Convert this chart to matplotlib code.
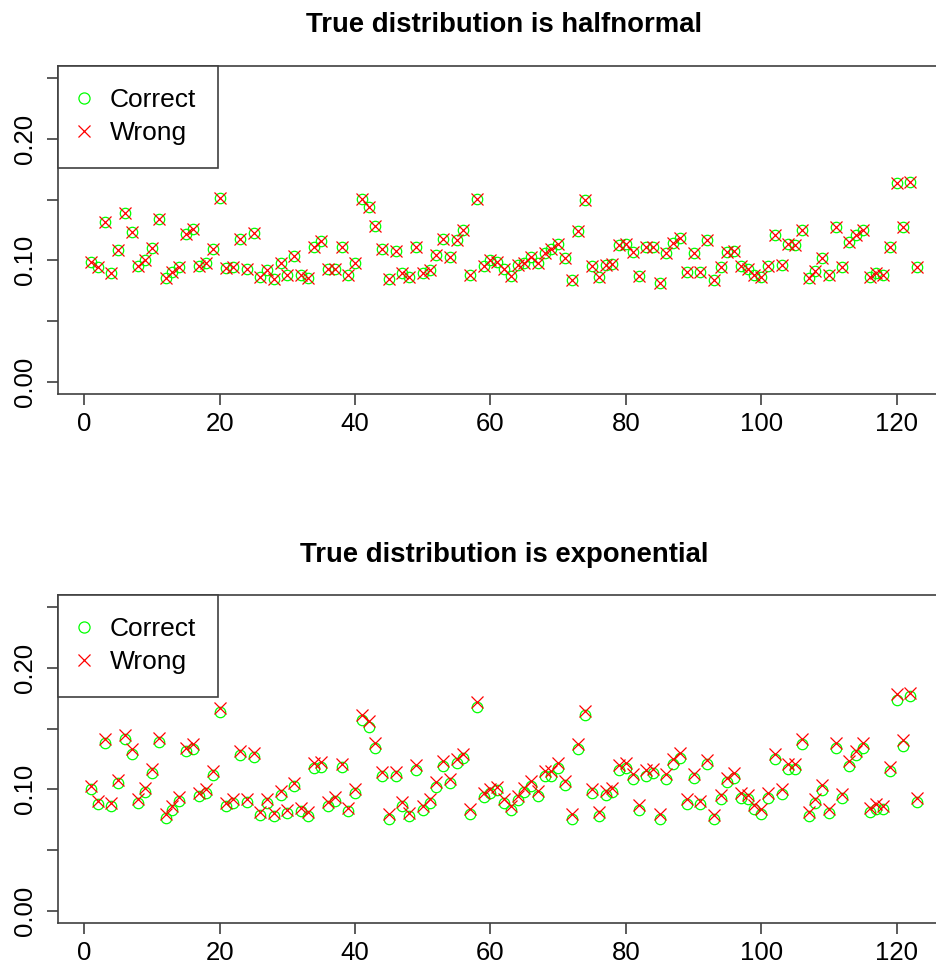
import matplotlib
matplotlib.use("Agg")
from matplotlib import pyplot as plt
import numpy as np

plt.rcParams['font.family'] = ['Liberation Sans', 'DejaVu Sans']

# values, index 1..123
halfnormal_correct = [
    0.099, 0.0945, 0.1315, 0.090, 0.1087, 0.1386, 0.1233, 0.0953, 0.1005, 0.1098,
    0.1339, 0.0854, 0.0906, 0.0945, 0.1219, 0.1257, 0.0953, 0.0978, 0.1093, 0.1517,
    0.0939, 0.0945, 0.1178, 0.0931, 0.1229, 0.0863, 0.0923, 0.0849, 0.0975, 0.0879,
    0.1038, 0.0879, 0.0851, 0.1114, 0.1161, 0.0928, 0.0928, 0.1114, 0.0879, 0.0980,
    0.1506, 0.1440, 0.1279, 0.1095, 0.0843, 0.1079, 0.0898, 0.0863, 0.1112, 0.0898,
    0.0920, 0.1046, 0.1175, 0.1030, 0.1169, 0.1246, 0.0879, 0.1506, 0.0953, 0.1005,
    0.0983, 0.0928, 0.0871, 0.0958, 0.0980, 0.1027, 0.0980, 0.1060, 0.1095, 0.1136,
    0.1021, 0.0840, 0.1238, 0.1498, 0.0953, 0.0863, 0.0964, 0.0972, 0.1123, 0.1131,
    0.1065, 0.0871, 0.1106, 0.1112, 0.0816, 0.1057, 0.1147, 0.1188, 0.0906, 0.1057,
    0.0901, 0.1164, 0.0838, 0.0947, 0.1068, 0.1079, 0.0953, 0.0928, 0.0879, 0.0863,
    0.0953, 0.1208, 0.0964, 0.1131, 0.1128, 0.1254, 0.0857, 0.0909, 0.1021, 0.0879,
    0.1273, 0.0947, 0.1153, 0.1210, 0.1254, 0.0863, 0.0898, 0.0879, 0.1112, 0.1638,
    0.1273, 0.1646, 0.0947]
# wrong and correct coincide in the halfnormal panel
halfnormal_wrong = halfnormal_correct

exponential_correct = [
    0.1001, 0.0878, 0.1384, 0.0864, 0.1050, 0.1412, 0.1291, 0.0891, 0.0982, 0.1132,
    0.1390, 0.0763, 0.0831, 0.0908, 0.1316, 0.1335, 0.0946, 0.0973, 0.1118, 0.1636,
    0.0864, 0.0891, 0.1283, 0.0897, 0.1266, 0.0790, 0.0891, 0.0782, 0.0954, 0.0809,
    0.1028, 0.0823, 0.0782, 0.1179, 0.1187, 0.0864, 0.0905, 0.1184, 0.0823, 0.0973,
    0.1570, 0.1516, 0.1343, 0.1110, 0.0754, 0.1110, 0.0864, 0.0782, 0.1160, 0.0831,
    0.0886, 0.1023, 0.1192, 0.1056, 0.1220, 0.1256, 0.0795, 0.1677, 0.0938, 0.0973,
    0.0995, 0.0886, 0.0831, 0.0913, 0.0982, 0.1028, 0.0946, 0.1110, 0.1110, 0.1179,
    0.1034, 0.0754, 0.1329, 0.1609, 0.0973, 0.0782, 0.0951, 0.0978, 0.1160, 0.1179,
    0.1083, 0.0831, 0.1110, 0.1132, 0.0754, 0.1089, 0.1206, 0.1261, 0.0878, 0.1091,
    0.0878, 0.1206, 0.0754, 0.0919, 0.1061, 0.1091, 0.0932, 0.0924, 0.0836, 0.0801,
    0.0932, 0.1253, 0.0965, 0.1171, 0.1165, 0.1371, 0.0782, 0.0886, 0.0995, 0.0804,
    0.1343, 0.0932, 0.1192, 0.1280, 0.1343, 0.0815, 0.0842, 0.0836, 0.1151, 0.1735,
    0.1357, 0.1767, 0.0897]
exponential_wrong = [
    0.1028, 0.0905, 0.1417, 0.0891, 0.1077, 0.1444, 0.1329, 0.0919, 0.1009, 0.1171,
    0.1423, 0.0795, 0.0864, 0.0941, 0.1343, 0.1371, 0.0973, 0.1001, 0.1151, 0.1672,
    0.0891, 0.0919, 0.1316, 0.0924, 0.1297, 0.0817, 0.0924, 0.0809, 0.0987, 0.0831,
    0.1056, 0.0850, 0.0815, 0.1220, 0.1225, 0.0897, 0.0941, 0.1212, 0.0850, 0.1006,
    0.1609, 0.1562, 0.1384, 0.1143, 0.0795, 0.1143, 0.0897, 0.0809, 0.1198, 0.0864,
    0.0919, 0.1061, 0.1233, 0.1089, 0.1253, 0.1288, 0.0836, 0.1718, 0.0973, 0.1006,
    0.1023, 0.0924, 0.0864, 0.0946, 0.1015, 0.1069, 0.0987, 0.1151, 0.1151, 0.1214,
    0.1069, 0.0795, 0.1371, 0.1644, 0.1006, 0.0815, 0.0987, 0.1015, 0.1198, 0.1214,
    0.1124, 0.0869, 0.1160, 0.1171, 0.0795, 0.1124, 0.1247, 0.1297, 0.0919, 0.1130,
    0.0905, 0.1242, 0.0787, 0.0951, 0.1091, 0.1138, 0.0968, 0.0951, 0.0872, 0.0836,
    0.0968, 0.1288, 0.1001, 0.1206, 0.1206, 0.1412, 0.0815, 0.0924, 0.1034, 0.0836,
    0.1384, 0.0960, 0.1233, 0.1316, 0.1379, 0.0850, 0.0878, 0.0864, 0.1187, 0.1781,
    0.1406, 0.1795, 0.0932]

titles = ["True distribution is halfnormal", "True distribution is exponential"]
xticks = [0, 20, 40, 60, 80, 100, 120]
yticks = [0.0, 0.05, 0.10, 0.15, 0.20, 0.25]
ytick_labels = ["0.00", "", "0.10", "", "0.20", ""]

W, H = 937, 967
fig = plt.figure(figsize=(W / 100, H / 100), dpi=100)

fs = 18.5
axis_col = "#404040"

panels = [(halfnormal_correct, halfnormal_wrong, 66),
          (exponential_correct, exponential_wrong, 595)]

for k, (corr, wrong, top_px) in enumerate(panels):
    ax_h = 328
    ax = fig.add_axes([58 / W, (H - top_px - ax_h) / H, 892 / W, ax_h / H])
    idx = np.arange(1, len(corr) + 1)
    ax.plot(idx, corr, linestyle="none", marker="o", markersize=7.5,
            markerfacecolor="none", markeredgecolor="#00FF00", markeredgewidth=0.9,
            label="Correct")
    ax.plot(idx, wrong, linestyle="none", marker="x", markersize=8,
            markeredgecolor="#FF0000", markeredgewidth=0.9, label="Wrong")
    ax.set_xlim(-3.88, 127.88)
    ax.set_ylim(-0.01, 0.26)
    ax.set_xticks(xticks)
    ax.set_xticklabels([str(t) for t in xticks])
    ax.set_yticks(yticks)
    ax.set_yticklabels(ytick_labels, rotation=90, va="center")
    ax.tick_params(axis="both", direction="out", length=8, width=1.2,
                   color=axis_col, labelsize=fs)
    ax.tick_params(axis="x", pad=5)
    ax.tick_params(axis="y", pad=7)
    for sp in ax.spines.values():
        sp.set_color(axis_col)
        sp.set_linewidth(1.2)

    leg = ax.legend(loc="upper left", bbox_to_anchor=(0, 1), borderaxespad=0,
                    fontsize=19, fancybox=False, framealpha=1, edgecolor=axis_col,
                    borderpad=0.85, handlelength=0.25, handletextpad=0.85,
                    labelspacing=0.33)
    leg.get_frame().set_linewidth(1.2)
    for h in leg.legend_handles:
        h.set_markersize(8)

    fig.text((58 + 950) / 2 / W, 1 - (32 + 530 * k) / H, titles[k],
             ha="center", va="baseline", fontsize=19.8, fontweight="bold")

fig.savefig("out.png", dpi=100)
